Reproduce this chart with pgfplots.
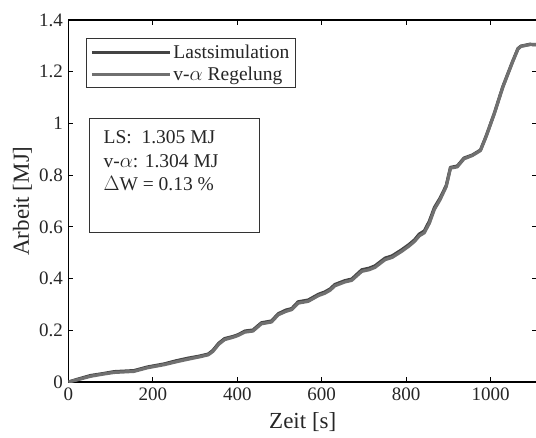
\documentclass[border=0pt]{standalone}
\usepackage{pgfplots}
\pgfplotsset{compat=1.18}
\usepackage{fontspec}
\setmainfont{Liberation Serif}
\definecolor{cA}{RGB}{68,68,68}
\definecolor{cB}{RGB}{112,112,112}
\begin{document}
\begin{tikzpicture}
\begin{axis}[
  scale only axis,
  width=468.5pt, height=362pt,
  xmin=0, xmax=1110, ymin=0, ymax=1.4,
  xtick={0,200,...,1000},
  ytick={0,0.2,0.4,0.6,0.8,1,1.2,1.4},
  tick align=inside,
  major tick length=5pt,
  tick style={line width=1.1pt, black},
  axis line style={line width=1.2pt, black},
  /pgf/number format/assume math mode=true,
  /pgf/number format/set thousands separator={},
  tick label style={font=\fontsize{19}{22}\selectfont, color=black!85},
  xlabel={Zeit [s]},
  ylabel={Arbeit [MJ]},
  every axis x label/.style={at={(axis description cs:0.5,0)}, anchor=center, yshift=-40pt, font=\fontsize{23}{26}\selectfont, color=black!85},
  every axis y label/.style={at={(axis description cs:-0.0985,0.5)}, anchor=center, rotate=90, font=\fontsize{23}{26}\selectfont, color=black!85},
  yticklabel style={xshift=-2pt},
  xticklabel style={yshift=-2pt},
  legend style={at={(axis description cs:0.0374,0.95)}, anchor=north west,
    font=\fontsize{19.5}{22}\selectfont, draw=black!80, line width=0.9pt,
    inner xsep=4pt, inner ysep=4pt, row sep=3pt, text=black!85},
  legend cell align=left,
  legend image code/.code={\draw[#1, line width=3pt] (0pt,0pt) -- (78pt,0pt);},
]
\addplot[cA, line width=3.2pt, line join=round] coordinates {
(0,0) (20,0.01) (52,0.025) (80,0.032) (108,0.04) (155,0.044) (187,0.058) (227,0.07) (255,0.082) (283,0.092) (310,0.1) (331,0.108) (342,0.122) (356,0.15) (370,0.168) (390,0.176) (402,0.183) (418,0.197) (437,0.201) (457,0.229) (481,0.236) (497,0.264) (515,0.278) (529,0.284) (544,0.31) (568,0.317) (592,0.339) (607,0.348) (620,0.36) (631,0.377) (655,0.392) (671,0.398) (695,0.434) (712,0.44) (726,0.449) (750,0.479) (767,0.488) (790,0.512) (807,0.532) (820,0.55) (831,0.572) (843,0.584) (855,0.622) (867,0.675) (880,0.71) (895,0.76) (905,0.83) (921,0.835) (937,0.866) (957,0.878) (976,0.897) (989,0.949) (1009,1.04) (1029,1.142) (1052,1.239) (1065,1.29) (1072,1.299) (1093,1.306) (1110,1.305)
};
\addlegendentry{Lastsimulation}
\addplot[cB, line width=3.2pt, line join=round] coordinates {
(0,0) (20,0.008) (52,0.022) (80,0.03) (108,0.037) (155,0.041) (187,0.055) (227,0.067) (255,0.078) (283,0.088) (310,0.097) (331,0.105) (342,0.118) (356,0.146) (370,0.164) (390,0.173) (402,0.18) (418,0.193) (437,0.197) (457,0.225) (481,0.232) (497,0.26) (515,0.273) (529,0.28) (544,0.305) (568,0.312) (592,0.334) (607,0.343) (620,0.355) (631,0.372) (655,0.387) (671,0.393) (695,0.428) (712,0.434) (726,0.443) (750,0.473) (767,0.482) (790,0.506) (807,0.526) (820,0.544) (831,0.565) (843,0.577) (855,0.614) (867,0.668) (880,0.704) (895,0.756) (905,0.827) (921,0.832) (937,0.863) (957,0.876) (976,0.895) (989,0.947) (1009,1.038) (1029,1.14) (1052,1.237) (1065,1.288) (1072,1.298) (1093,1.305) (1110,1.304)
};
\addlegendentry{v-$\alpha$ Regelung}
\draw[black!80, line width=0.9pt] (rel axis cs:0.0438,0.729) rectangle (rel axis cs:0.4066,0.414);
\node[anchor=north west, align=left, inner sep=0pt, font=\fontsize{19.5}{23.5}\selectfont, text=black!85]
  at (rel axis cs:0.0745,0.695) {LS:\ \ 1.305 MJ\\ v-$\alpha$: 1.304 MJ\\ $\Delta$W = 0.13 \%};
\end{axis}
\pgfresetboundingbox
\path[use as bounding box] (-68.5pt,-55pt) rectangle (467.5pt,382pt);
\end{tikzpicture}
\end{document}
